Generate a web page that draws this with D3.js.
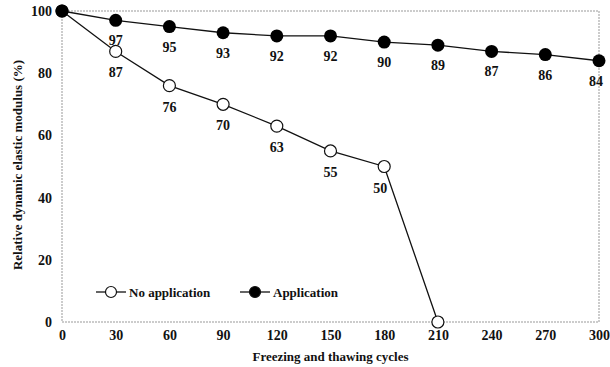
<!DOCTYPE html>
<html>
<head>
<meta charset="utf-8">
<script src="https://cdn.jsdelivr.net/npm/d3@7"></script>
<style>
  body { margin: 0; background: #fff; }
  svg text { font-family: "Liberation Serif", "Times New Roman", serif; font-weight: bold; fill: #111; }
</style>
</head>
<body>
<svg id="chart" width="610" height="367"></svg>
<script>
// data
var cycles = [0, 30, 60, 90, 120, 150, 180, 210, 240, 270, 300];
var noAppCycles = [0, 30, 60, 90, 120, 150, 180, 210];
var noAppValues = [100, 87, 76, 70, 63, 55, 50, 0];
var appValues = [100, 97, 95, 93, 92, 92, 90, 89, 87, 86, 84];
var yTicks = [0, 20, 40, 60, 80, 100];

var margin = { top: 11, right: 11, bottom: 45, left: 62 };
var width = 610, height = 367;
var chartWidth = width - margin.left - margin.right;
var chartHeight = height - margin.top - margin.bottom;

var svg = d3.select("#chart");
var chart = svg.append("g").attr("transform", `translate(${margin.left},${margin.top})`);

var xScale = d3.scaleLinear().domain([0, 300]).range([0, chartWidth]);
var yScale = d3.scaleLinear().domain([0, 100]).range([chartHeight, 0]);

// dotted frame
chart.append("rect")
  .attr("x", 0).attr("y", 0)
  .attr("width", chartWidth).attr("height", chartHeight)
  .attr("fill", "none")
  .attr("stroke", "#999")
  .attr("stroke-width", 1)
  .attr("stroke-dasharray", "2,1");

// x axis labels
var xAxis = chart.append("g")
  .attr("transform", `translate(0,${chartHeight})`)
  .call(d3.axisBottom(xScale).tickValues(cycles).tickSize(0).tickPadding(8));
xAxis.select(".domain").remove();
xAxis.selectAll("text").style("font-size", "14px").attr("font-family", null);

// y axis labels
var yAxis = chart.append("g")
  .call(d3.axisLeft(yScale).tickValues(yTicks).tickSize(0).tickPadding(10));
yAxis.select(".domain").remove();
yAxis.selectAll("text").style("font-size", "14px").attr("font-family", null);

// axis titles
svg.append("text")
  .attr("x", margin.left + chartWidth / 2)
  .attr("y", 361)
  .attr("text-anchor", "middle")
  .style("font-size", "13px")
  .text("Freezing and thawing cycles");

svg.append("text")
  .attr("transform", "rotate(-90)")
  .attr("x", -165)
  .attr("y", 22)
  .attr("text-anchor", "middle")
  .style("font-size", "13px")
  .text("Relative dynamic elastic modulus (%)");

var line = d3.line()
  .x(d => xScale(d[0]))
  .y(d => yScale(d[1]));

var appData = cycles.map((c, i) => [c, appValues[i]]);
var noAppData = noAppCycles.map((c, i) => [c, noAppValues[i]]);

chart.append("path").datum(noAppData)
  .attr("d", line).attr("fill", "none").attr("stroke", "#111").attr("stroke-width", 1.3);
chart.append("path").datum(appData)
  .attr("d", line).attr("fill", "none").attr("stroke", "#111").attr("stroke-width", 1.3);

chart.selectAll(".noapp-dot")
  .data(noAppData)
  .join("circle")
  .attr("class", "noapp-dot")
  .attr("cx", d => xScale(d[0]))
  .attr("cy", d => yScale(d[1]))
  .attr("r", 6)
  .attr("fill", "#fff")
  .attr("stroke", "#111")
  .attr("stroke-width", 1.2);

chart.selectAll(".app-dot")
  .data(appData)
  .join("circle")
  .attr("class", "app-dot")
  .attr("cx", d => xScale(d[0]))
  .attr("cy", d => yScale(d[1]))
  .attr("r", 6.5)
  .attr("fill", "#000");

// value labels (skip first point and the zero)
chart.selectAll(".app-label")
  .data(appData.slice(1))
  .join("text")
  .attr("x", d => xScale(d[0]) + (d[0] == 300 ? -3 : 0))
  .attr("y", d => yScale(d[1]) + 25)
  .attr("text-anchor", "middle")
  .style("font-size", "14px")
  .text(d => d[1]);

chart.selectAll(".noapp-label")
  .data(noAppData.slice(1, 7))
  .join("text")
  .attr("x", d => xScale(d[0]) + (d[0] == 180 ? -4 : 0))
  .attr("y", d => yScale(d[1]) + 26)
  .attr("text-anchor", "middle")
  .style("font-size", "14px")
  .text(d => d[1]);

// legend
var legend = svg.append("g");
var legendItems = [
  { label: "No application", x: 96, fill: "#fff" },
  { label: "Application", x: 240, fill: "#000" }
];
legendItems.forEach(function (item) {
  legend.append("line")
    .attr("x1", item.x).attr("x2", item.x + 30)
    .attr("y1", 292).attr("y2", 292)
    .attr("stroke", "#111").attr("stroke-width", 1.3);
  legend.append("circle")
    .attr("cx", item.x + 15).attr("cy", 292).attr("r", 5.5)
    .attr("fill", item.fill).attr("stroke", "#111").attr("stroke-width", 1.2);
  legend.append("text")
    .attr("x", item.x + 33).attr("y", 296.5)
    .style("font-size", "13px")
    .text(item.label);
});
</script>
</body>
</html>
